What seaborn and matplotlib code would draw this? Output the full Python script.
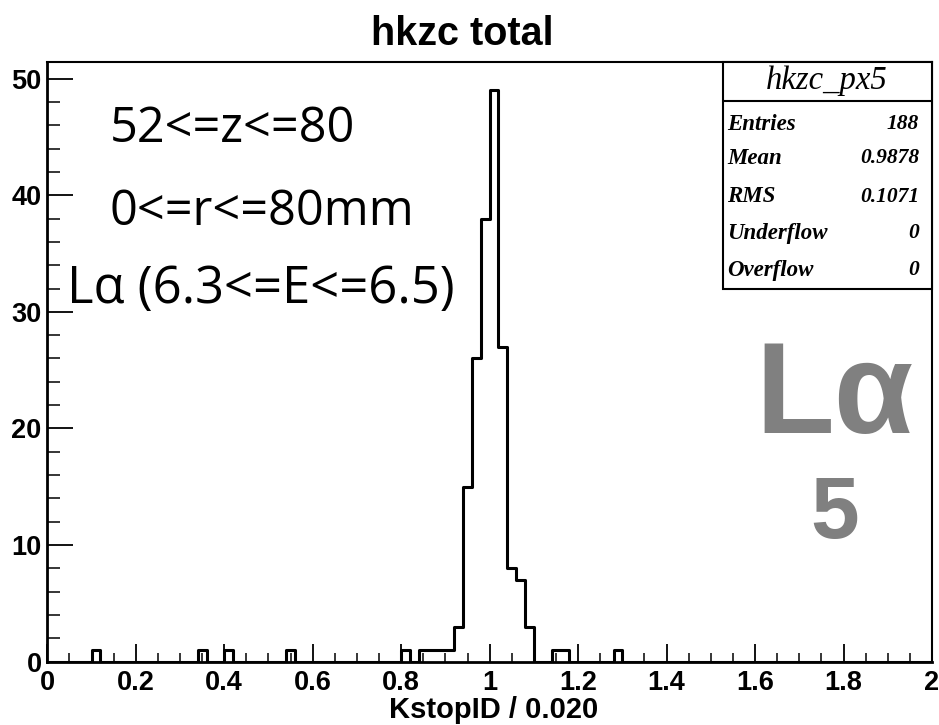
import numpy as np
import pandas as pd
import matplotlib
matplotlib.use("Agg")
import matplotlib.pyplot as plt
from matplotlib.ticker import MultipleLocator, FuncFormatter
from matplotlib.patches import Rectangle
import seaborn as sns

# ---- data ----
bin_left = [0.10, 0.34, 0.40, 0.54, 0.80, 0.84, 0.86, 0.88, 0.90, 0.92, 0.94,
            0.96, 0.98, 1.00, 1.02, 1.04, 1.06, 1.08, 1.14, 1.16, 1.28]
counts = [1, 1, 1, 1, 1, 1, 1, 1, 1, 3, 15, 26, 38, 49, 27, 8, 7, 3, 1, 1, 1]
bin_width = 0.02
x_range = (0.0, 2.0)
y_max = 51.45

title = "hkzc total"
x_label = "KstopID / 0.020"
notes = ["52<=z<=80", "0<=r<=80mm", "Lα (6.3<=E<=6.5)"]
stats_name = "hkzc_px5"
stats_labels = ["Entries", "Mean", "RMS", "Underflow", "Overflow"]
stats_values = ["188", "0.9878", "0.1071", "0", "0"]

df = pd.DataFrame({"x": np.array(bin_left) + bin_width / 2, "w": counts})

sns.set_theme(style="white")
plt.rcParams["font.family"] = ["Liberation Sans", "DejaVu Sans"]

W, H = 939, 725
fig = plt.figure(figsize=(W / 100, H / 100), dpi=100)
L, R, T, B = 47.3, 932.0, 61.7, 661.7
ax = fig.add_axes([L / W, 1 - B / H, (R - L) / W, (B - T) / H])

sns.histplot(data=df, x="x", weights="w", binwidth=bin_width, binrange=x_range,
             element="step", fill=False, color="black", linewidth=2.2, ax=ax)

ax.set_xlim(*x_range)
ax.set_ylim(0, y_max)
ax.set_xlabel("")
ax.set_ylabel("")

ax.xaxis.set_major_locator(MultipleLocator(0.2))
ax.xaxis.set_minor_locator(MultipleLocator(0.05))
ax.yaxis.set_major_locator(MultipleLocator(10))
ax.yaxis.set_minor_locator(MultipleLocator(2))
ax.xaxis.set_major_formatter(FuncFormatter(lambda v, p: "%g" % round(v, 3)))
ax.yaxis.set_major_formatter(FuncFormatter(lambda v, p: "%g" % v))

ax.tick_params(axis="x", which="major", direction="in", length=13, width=1.3,
               bottom=True, top=False, pad=6, labelsize=19.5, colors="black")
ax.tick_params(axis="x", which="minor", direction="in", length=6.5, width=1.3,
               bottom=True, top=False)
ax.tick_params(axis="y", which="major", direction="in", length=19, width=1.3,
               left=True, right=False, pad=4, labelsize=19.5, colors="black")
ax.tick_params(axis="y", which="minor", direction="in", length=9.5, width=1.3,
               left=True, right=False)
for lab in ax.get_xticklabels() + ax.get_yticklabels():
    lab.set_fontweight("bold")

for side, lw in [("left", 2.0), ("bottom", 2.0), ("top", 1.5), ("right", 1.5)]:
    ax.spines[side].set_visible(True)
    ax.spines[side].set_color("black")
    ax.spines[side].set_linewidth(lw)
ax.grid(False)

def fx(x):
    return x / W

def fy(y):
    return 1 - y / H

# title and axis label
fig.text(fx(462), fy(45), title, ha="center", va="baseline", fontsize=28.5,
         fontweight="bold", color="black")
fig.text(fx(494), fy(718), x_label, ha="center", va="baseline", fontsize=21,
         fontweight="bold", color="black")

# annotation text
note_pos = [(110, 141.7), (110, 225), (67, 303)]
note_size = [35, 35, 36.5]
for (nx, ny), fs, t in zip(note_pos, note_size, notes):
    fig.text(fx(nx), fy(ny), t, ha="left", va="baseline", fontsize=fs,
             family=["Open Sans", "DejaVu Sans"], color="black")

fig.text(fx(755), fy(432.7), "Lα", ha="left", va="baseline", fontsize=93,
         fontweight="bold", color="#808080")
fig.text(fx(835), fy(538), "5", ha="center", va="baseline", fontsize=63,
         fontweight="bold", color="#808080")

# stats box
bx0, bx1, by0, by1, bsep = 723.0, 932.0, 61.7, 289.0, 101.0
rect = Rectangle((fx(bx0), fy(by1)), fx(bx1) - fx(bx0), fy(by0) - fy(by1),
                 transform=fig.transFigure, facecolor="white", edgecolor="black",
                 linewidth=1.5, zorder=5)
fig.add_artist(rect)
fig.add_artist(plt.Line2D([fx(bx0), fx(bx1)], [fy(bsep), fy(bsep)],
                          transform=fig.transFigure, color="black", linewidth=1.5, zorder=6))
fig.text(fx(827), fy(81), stats_name, ha="center", va="center", fontsize=23.5,
         family="Liberation Serif", style="italic", color="black", zorder=7)
row_y = [124.3, 158.3, 196.7, 233.3, 270]
for yy, lab, val in zip(row_y, stats_labels, stats_values):
    fig.text(fx(727), fy(yy), lab, ha="left", va="center", fontsize=16.5,
             family="Liberation Serif", style="italic", fontweight="bold",
             color="black", zorder=7)
    fig.text(fx(919), fy(yy), val, ha="right", va="center", fontsize=15.5,
             family="Liberation Serif", style="italic", fontweight="bold",
             color="black", zorder=7)

fig.savefig("out.png", dpi=100, facecolor="white")
